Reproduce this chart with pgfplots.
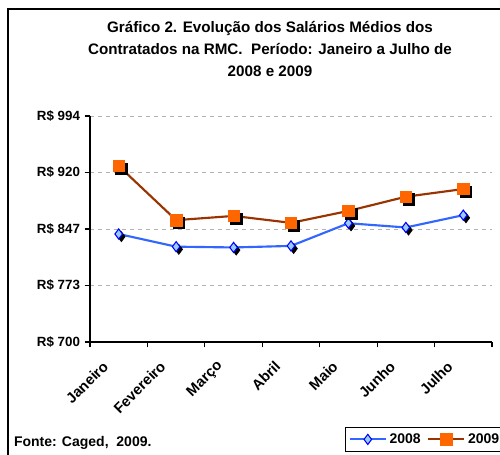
\documentclass[border=0pt]{standalone}
\usepackage{pgfplots}
\pgfplotsset{compat=1.18}
\usepackage{fontspec}
\setmainfont{Liberation Sans}
\definecolor{l08}{HTML}{3366FF}
\definecolor{m08}{HTML}{99CCFF}
\definecolor{e08}{HTML}{0000FF}
\definecolor{l09}{HTML}{993300}
\definecolor{m09}{HTML}{FF6600}
\begin{document}
\begin{tikzpicture}
\draw[line width=1pt] (6pt,-20pt) -- (6pt,333.75pt) -- (400pt,333.75pt);
\node[align=center, font=\bfseries\fontsize{11.4}{16.2}\selectfont] at (202.5pt,303.8pt)
  {Gráfico 2. Evolução dos Salários Médios dos\\Contratados na RMC.\ \ Período: Janeiro a Julho de\\2008 e 2009};
\node[anchor=west, font=\bfseries\fontsize{10.5}{12}\selectfont] at (7pt,8.5pt) {Fonte: Caged,\ \ 2009.};
\begin{axis}[
  at={(67.5pt,84pt)}, anchor=south west,
  scale only axis, width=301.5pt, height=169.5pt,
  xmin=0, xmax=7, ymin=700, ymax=994,
  axis x line*=bottom, axis y line*=left,
  axis line style={line width=0.8pt, -},
  xtick={0.5,1.5,2.5,3.5,4.5,5.5,6.5},
  xticklabels={Janeiro,Fevereiro,Março,Abril,Maio,Junho,Julho},
  major x tick style={draw=none},
  minor xtick={0,1,2,3,4,5,6,7},
  minor tick length=4pt,
  tick align=outside,
  x tick style={line width=0.8pt, black},
  xticklabel style={xshift=-7.5pt, yshift=-10pt, rotate=45, anchor=east, font=\bfseries\fontsize{11}{12}\selectfont},
  ytick={700,773.5,847,920.5,994},
  yticklabels={R\$ 700,R\$ 773,R\$ 847,R\$ 920,R\$ 994},
  yticklabel style={font=\bfseries\fontsize{10}{12}\selectfont},
  y tick style={line width=0.8pt, black},
  major tick length=4pt,
  ymajorgrids, grid style={dashed, gray!60, line width=0.6pt},
  legend style={at={(axis description cs:0.634,-0.376)}, anchor=north west,
    legend columns=2, draw=black, line width=0.8pt, font=\bfseries\fontsize{10.5}{12}\selectfont,
    inner sep=2.5pt, /tikz/every even column/.append style={column sep=3pt}},
  legend image code/.code={\draw[mark repeat=2,mark phase=2,#1] plot coordinates {(0pt,0pt) (13.5pt,0pt) (27pt,0pt)};},
]
\addplot[forget plot, only marks, mark=diamond*, mark size=3.8pt, black, mark options={xshift=2pt,yshift=-2pt}]
  coordinates {(0.5,840.5) (1.5,824) (2.5,823) (3.5,825) (4.5,854.5) (5.5,849) (6.5,865)};
\addplot[l08, line width=1.6pt, mark=diamond*, mark size=3.8pt, mark options={fill=m08, draw=e08, line width=0.8pt}]
  coordinates {(0.5,840.5) (1.5,824) (2.5,823) (3.5,825) (4.5,854.5) (5.5,849) (6.5,865)};
\addlegendentry{2008}
\addplot[forget plot, only marks, mark=square*, mark size=4.3pt, black, mark options={xshift=2pt,yshift=-2pt}]
  coordinates {(0.5,929) (1.5,858.5) (2.5,864) (3.5,855) (4.5,870.5) (5.5,889) (6.5,899)};
\addplot[l09, line width=1.6pt, mark=square*, mark size=4.3pt, mark options={fill=m09, draw=m09, line width=0.5pt}]
  coordinates {(0.5,929) (1.5,858.5) (2.5,864) (3.5,855) (4.5,870.5) (5.5,889) (6.5,899)};
\addlegendentry{2009}
\end{axis}
\pgfresetboundingbox
\path (0,0) rectangle (375pt,340.5pt);
\end{tikzpicture}
\end{document}
